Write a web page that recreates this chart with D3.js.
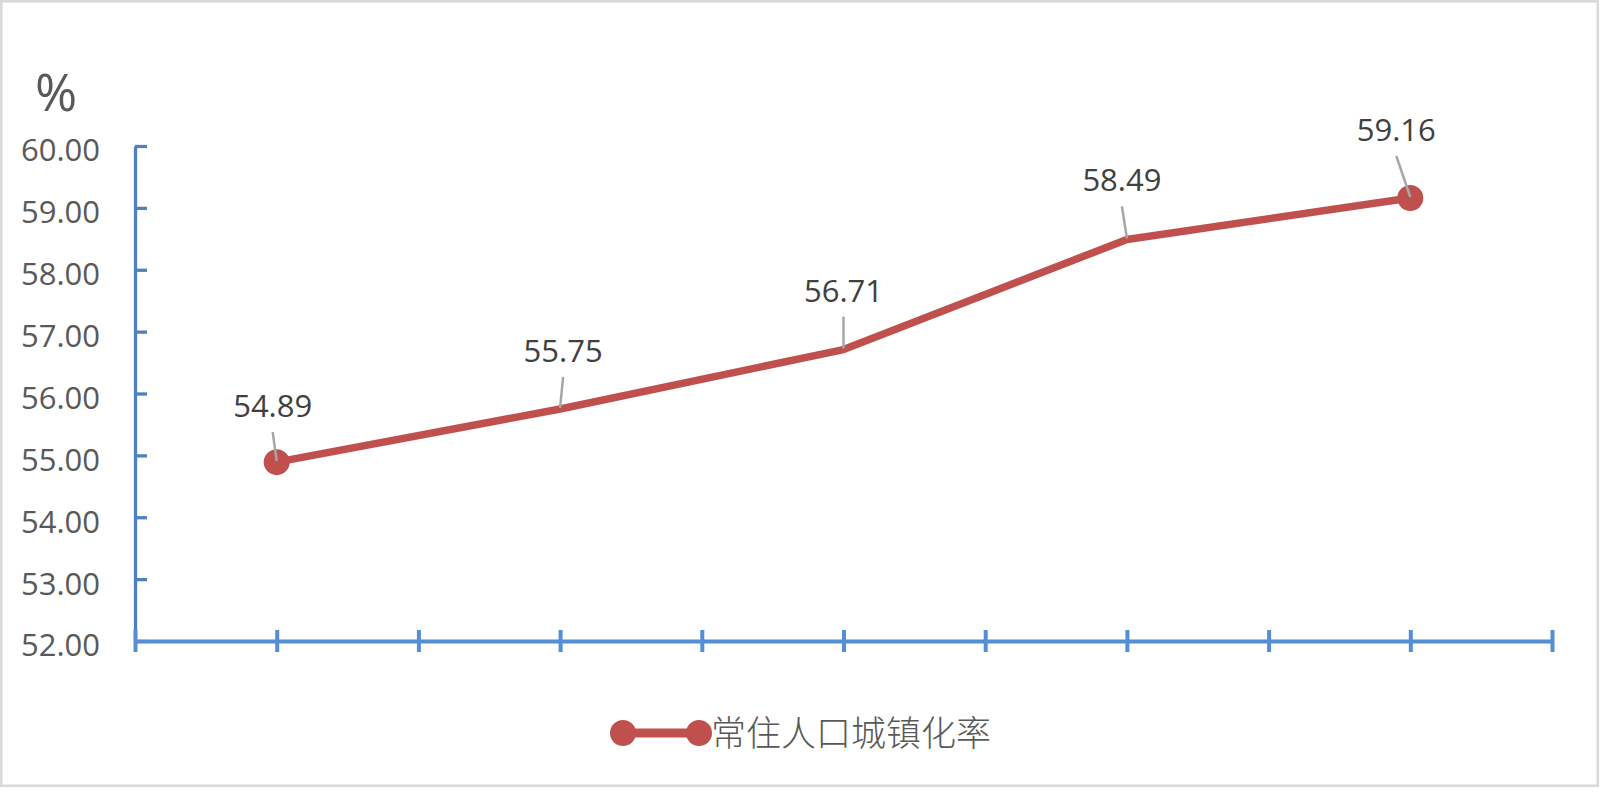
<!DOCTYPE html>
<html>
<head>
<meta charset="utf-8">
<script src="https://cdn.jsdelivr.net/npm/d3@7"></script>
<style>
  body { margin: 0; background: #fff; }
  svg { display: block; }
</style>
</head>
<body>
<div id="chart"></div>
<script>
// ========= Data ========= //
const categories = [0, 1, 2, 3, 4]; // the axis shows no category labels
const seriesName = '常住人口城镇化率';
const values = [54.89, 55.75, 56.71, 58.49, 59.16];
const yTicks = [52, 53, 54, 55, 56, 57, 58, 59, 60];
const unitLabel = '%';

// hand-placed data label nudges (px, from the point): [dx, dy of baseline]
const labelNudge = [[-4, -45], [3, -47], [0, -48], [-5, -48], [-14, -57]];

// ========= Constants ========= //
const width = 1604;
const height = 792;
const plot = { left: 135, right: 1552, top: 146, bottom: 641 };
const lineColor = '#c0504d';
const textFont = '"Open Sans", "Noto Sans", sans-serif';

// ========= Scales ========= //
const x = d3.scaleBand()
  .domain(categories)
  .range([plot.left, plot.right]);

const xTick = d3.scaleLinear()
  .domain([0, categories.length])
  .range([plot.left, plot.right]);

const y = d3.scaleLinear()
  .domain([d3.min(yTicks), d3.max(yTicks)])
  .range([plot.bottom, plot.top]);

const cx = (i) => x(categories[i]) + x.bandwidth() / 2;

// ========= SVG ========= //
const svg = d3.select('#chart').append('svg')
  .attr('width', width)
  .attr('height', height);

svg.append('rect')
  .attr('x', 1.3)
  .attr('y', 1.3)
  .attr('width', 1596.5)
  .attr('height', 784.5)
  .attr('fill', '#fff')
  .attr('stroke', '#d9d9d9')
  .attr('stroke-width', 2.6);

// ========= Y axis ========= //
const yAxis = svg.append('g')
  .attr('transform', `translate(${plot.left},0)`)
  .call(d3.axisLeft(y)
    .tickValues(yTicks)
    .tickFormat(d3.format('.2f'))
    .tickSizeInner(-12)
    .tickSizeOuter(0)
    .tickPadding(35));

yAxis.select('.domain')
  .attr('stroke', '#4f81bd')
  .attr('stroke-width', 3.3);
yAxis.selectAll('.tick line')
  .attr('stroke', '#4f81bd')
  .attr('stroke-width', 3.3);
yAxis.selectAll('.tick text')
  .attr('y', 5)
  .attr('fill', '#595959')
  .attr('font-family', textFont)
  .attr('font-size', 31);

svg.append('text')
  .attr('x', 56)
  .attr('y', 111)
  .attr('text-anchor', 'middle')
  .attr('fill', '#595959')
  .attr('font-family', textFont)
  .attr('font-size', 51)
  .text(unitLabel);

// ========= X axis ========= //
const xAxis = svg.append('g')
  .attr('transform', `translate(0,${plot.bottom})`)
  .call(d3.axisBottom(xTick)
    .tickValues(d3.range(0, categories.length + 0.25, 0.5))
    .tickFormat('')
    .tickSizeInner(11)
    .tickSizeOuter(0));

xAxis.select('.domain')
  .attr('stroke', '#558ed5')
  .attr('stroke-width', 4);
xAxis.selectAll('.tick line')
  .attr('y1', -11)
  .attr('stroke', '#558ed5')
  .attr('stroke-width', 4);

// ========= Series ========= //
const line = d3.line()
  .x((d, i) => cx(i))
  .y((d) => y(d));

svg.append('path')
  .datum(values)
  .attr('fill', 'none')
  .attr('stroke', lineColor)
  .attr('stroke-width', 7.5)
  .attr('stroke-linejoin', 'round')
  .attr('d', line);

// markers only on the first and last points
svg.append('g')
  .selectAll('circle')
  .data(values.map((v, i) => ({ v, i })).filter((d) => d.i === 0 || d.i === values.length - 1))
  .join('circle')
  .attr('cx', (d) => cx(d.i))
  .attr('cy', (d) => y(d.v))
  .attr('r', 13)
  .attr('fill', lineColor);

// ========= Data labels ========= //
const labels = svg.append('g')
  .selectAll('g')
  .data(values)
  .join('g');

labels.append('line')
  .attr('x1', (d, i) => cx(i) + labelNudge[i][0])
  .attr('y1', (d, i) => y(d) + labelNudge[i][1] + 15)
  .attr('x2', (d, i) => cx(i))
  .attr('y2', (d) => y(d) - 1)
  .attr('stroke', '#a6a6a6')
  .attr('stroke-width', 2.5);

labels.append('text')
  .attr('x', (d, i) => cx(i) + labelNudge[i][0])
  .attr('y', (d, i) => y(d) + labelNudge[i][1])
  .attr('text-anchor', 'middle')
  .attr('fill', '#404040')
  .attr('font-family', textFont)
  .attr('font-size', 31)
  .text((d) => d3.format('.2f')(d));

// ========= Legend ========= //
const legend = svg.append('g')
  .attr('transform', 'translate(623,733)');

legend.append('line')
  .attr('x1', 0)
  .attr('x2', 76)
  .attr('stroke', lineColor)
  .attr('stroke-width', 9);

legend.selectAll('circle')
  .data([0, 76])
  .join('circle')
  .attr('cx', (d) => d)
  .attr('r', 13)
  .attr('fill', lineColor);

legend.append('text')
  .attr('x', 88)
  .attr('y', 0)
  .attr('dy', '0.36em')
  .attr('fill', '#595959')
  .attr('font-family', '"Noto Sans CJK SC", sans-serif')
  .attr('font-weight', 300)
  .attr('font-size', 35)
  .text(seriesName);
</script>
</body>
</html>
